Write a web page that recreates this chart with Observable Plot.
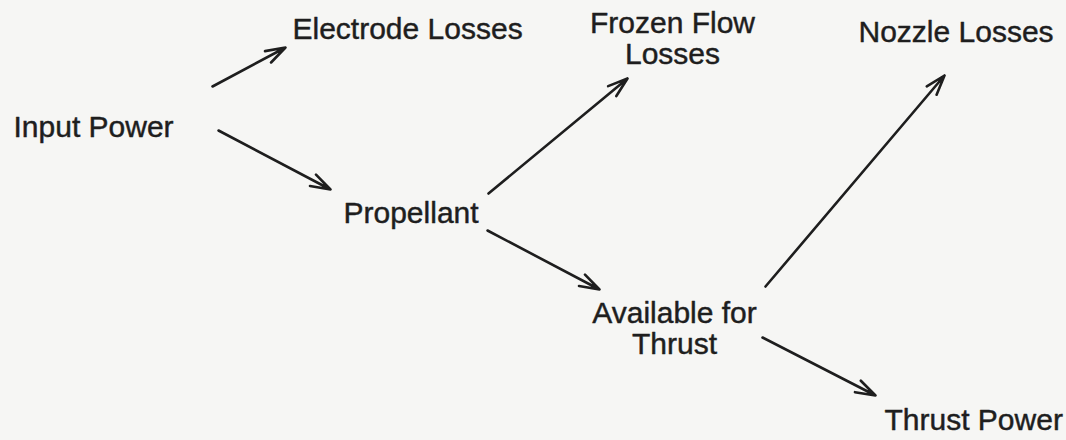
<!DOCTYPE html>
<html>
<head>
<meta charset="utf-8">
<script src="https://cdn.jsdelivr.net/npm/d3@7"></script>
<script src="https://cdn.jsdelivr.net/npm/@observablehq/plot@0.6"></script>
<style>
  html, body { margin: 0; padding: 0; background: #f6f6f4; }
  #chart svg { display: block; background: #f6f6f4; }
</style>
</head>
<body>
<div id="chart"></div>
<script>
// Diagram nodes (layout coordinates in diagram units)
const nodeLabels = ["Input Power", "Electrode Losses", "Propellant", "Frozen Flow\nLosses", "Nozzle Losses", "Available for\nThrust", "Thrust Power"];
const nodeX      = [13, 292, 343, 672, 858, 674, 884];
const nodeY      = [127, 29, 213, 38, 32, 328, 420];
const nodeAnchor = ["start", "start", "start", "middle", "start", "middle", "start"];

// Flow arrows: from (fromX, fromY) to (toX, toY)
const fromX = [212, 218, 488, 487, 765, 762];
const fromY = [86, 130, 193, 230, 286, 337];
const toX   = [285, 330, 627, 599, 944, 875];
const toY   = [47, 189, 78, 289, 75, 395];

const nodes = nodeLabels.map((label, i) => ({label, x: nodeX[i], y: nodeY[i], anchor: nodeAnchor[i]}));
const links = fromX.map((_, i) => ({x1: fromX[i], y1: fromY[i], x2: toX[i], y2: toY[i]}));

const ink = "#1e1e1e";
const textProps = {
  text: "label", x: "x", y: "y",
  fontSize: 30, lineHeight: 1.03, lineAnchor: "middle",
  fill: ink, stroke: ink, strokeWidth: 0.45,
  fontFamily: "Liberation Sans, Arial, Helvetica, sans-serif"
};

const chart = Plot.plot({
  width: 1066,
  height: 440,
  margin: 0,
  style: {background: "#f6f6f4"},
  x: {domain: [0, 1066], range: [0, 1066], axis: null},
  y: {domain: [0, 440], range: [0, 440], axis: null},
  marks: [
    Plot.arrow(links, {
      x1: "x1", y1: "y1", x2: "x2", y2: "y2",
      stroke: ink, strokeWidth: 2.6, headLength: 12, headAngle: 36
    }),
    Plot.text(nodes.filter(d => d.anchor === "start"), {...textProps, textAnchor: "start"}),
    Plot.text(nodes.filter(d => d.anchor === "middle"), {...textProps, textAnchor: "middle"})
  ]
});
document.getElementById("chart").appendChild(chart);
</script>
</body>
</html>
